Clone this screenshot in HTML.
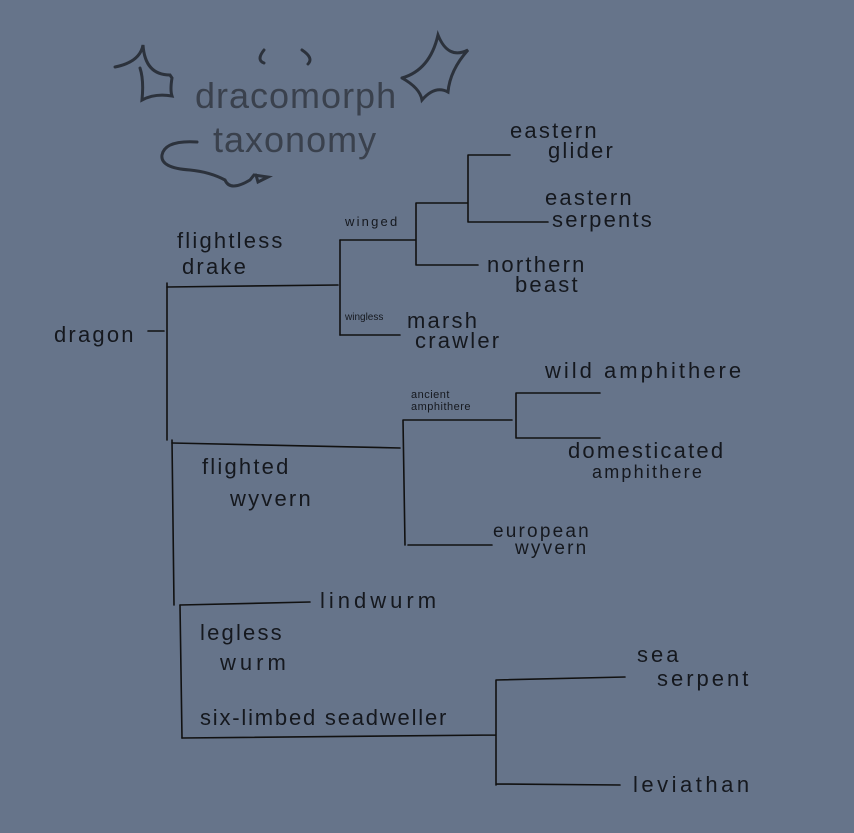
<!DOCTYPE html>
<html><head><style>
html,body{margin:0;padding:0;background:#66748a;}
svg{display:block}
text{font-family:"Liberation Sans",sans-serif;fill:#15181e;}
.t{fill:#3a414d;font-size:36px;font-weight:300;letter-spacing:1px}
.l{letter-spacing:2.2px}
</style></head><body>
<svg width="854" height="833" viewBox="0 0 854 833">
<rect width="854" height="833" fill="#66748a"/>
<g fill="none" stroke="#2c323c" stroke-width="3" stroke-linecap="round">
<path d="M115,67 Q140,62 143,45 Q145,75 170,75 L172,78 Q170,90 172,96 Q155,93 142,100 Q144,80 140,68"/>
<path d="M402,78 Q430,70 438,35 Q448,60 468,50 Q450,70 448,92 Q435,85 422,100 Q420,88 402,78"/>
<path d="M264,50 Q256,60 264,63 M302,50 Q314,58 308,64"/>
<path d="M197,142 Q165,140 162,155 Q160,168 190,170 Q210,172 225,180 Q230,192 250,180 L254,175 L268,177 L258,182 L256,175"/>
</g>
<text class="t" x="195" y="108">dracomorph</text>
<text class="t" x="213" y="152">taxonomy</text>
<g fill="none" stroke="#111" stroke-width="1.6" stroke-linecap="round">
<path d="M148,331 L164,331"/>
<path d="M167,283 L167,440 M172,440 L174,605 M180,605 L182,738"/>
<path d="M167,287 L338,285"/>
<path d="M340,240 L340,335"/>
<path d="M340,240 L416,240 M416,203 L416,265 M416,203 L468,203 M468,155 L468,222 M468,155 L510,155 M468,222 L548,222 M416,265 L478,265"/>
<path d="M340,335 L400,335"/>
<path d="M172,443 L400,448 M403,420 L405,545 M403,420 L512,420 M516,393 L516,438 M516,393 L600,393 M516,438 L600,438 M408,545 L492,545"/>
<path d="M180,605 L310,602"/>
<path d="M182,738 L496,735 M496,680 L496,785 M496,680 L625,677 M496,784 L620,785"/>
</g>
<g font-size="22" class="l">
<text x="54" y="342">dragon</text>
<text x="177" y="248">flightless</text>
<text x="182" y="274">drake</text>
<text x="345" y="226" font-size="13">winged</text>
<text x="345" y="320" font-size="10" letter-spacing="0">wingless</text>
<text x="510" y="138">eastern</text>
<text x="548" y="158">glider</text>
<text x="545" y="205">eastern</text>
<text x="552" y="227">serpents</text>
<text x="487" y="272">northern</text>
<text x="515" y="292">beast</text>
<text x="407" y="328">marsh</text>
<text x="415" y="348">crawler</text>
<text x="545" y="378" letter-spacing="3">wild amphithere</text>
<text x="411" y="398" font-size="11" letter-spacing="0.5">ancient</text>
<text x="411" y="410" font-size="11" letter-spacing="0.5">amphithere</text>
<text x="568" y="458">domesticated</text>
<text x="592" y="478" font-size="18">amphithere</text>
<text x="202" y="474">flighted</text>
<text x="230" y="506">wyvern</text>
<text x="493" y="537" font-size="19">european</text>
<text x="515" y="554" font-size="19">wyvern</text>
<text x="320" y="608" letter-spacing="4">lindwurm</text>
<text x="200" y="640">legless</text>
<text x="220" y="670" letter-spacing="4">wurm</text>
<text x="200" y="725" letter-spacing="1.8">six-limbed seadweller</text>
<text x="637" y="662" letter-spacing="3">sea</text>
<text x="657" y="686" letter-spacing="3">serpent</text>
<text x="633" y="792" letter-spacing="3.5">leviathan</text>
</g>
</svg>
</body></html>
